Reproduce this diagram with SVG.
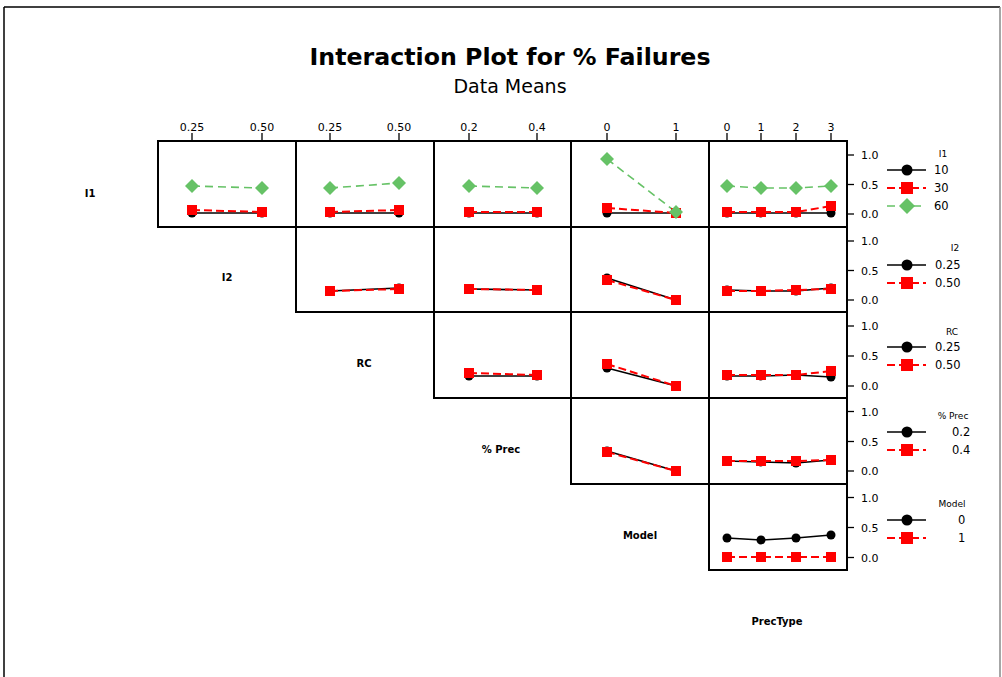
<svg xmlns="http://www.w3.org/2000/svg" xmlns:xlink="http://www.w3.org/1999/xlink" width="1002" height="677" viewBox="0 0 1002 677">
<style>
text{font-family:"DejaVu Sans","Liberation Sans",sans-serif;fill:#000}
.title{font-size:23px;font-weight:bold}
.sub{font-size:19px}
.tick{font-size:11px}
.rowlab{font-size:10px;font-weight:bold}
.legt{font-size:9px}
.legi{font-size:11.5px}
.panel{fill:none;stroke:#000;stroke-width:2}
.tk{stroke:#000;stroke-width:1.3}
.blk{fill:none;stroke:#000;stroke-width:1.6}
.red{fill:none;stroke:#f00;stroke-width:2;stroke-dasharray:8 4}
.grn{fill:none;stroke:#66c266;stroke-width:1.6;stroke-dasharray:8 5}
</style>
<defs>
<circle id="c" r="4.5" fill="#000"/>
<rect id="s" x="-5" y="-5" width="10" height="10" fill="#f00"/>
<path id="d" d="M0,-7 L7,0 L0,7 L-7,0 Z" fill="#66c266"/>
<circle id="lc" r="5.5" fill="#000"/>
<rect id="ls" x="-6" y="-6" width="12" height="12" fill="#f00"/>
<path id="ld" d="M0,-8 L8,0 L0,8 L-8,0 Z" fill="#66c266"/>
</defs>
<rect width="1002" height="677" fill="#fff"/>
<g id="frame">
<line x1="4" y1="7" x2="1000" y2="7" stroke="#000" stroke-width="1.5"/>
<line x1="4" y1="7" x2="4" y2="677" stroke="#000" stroke-width="1.5"/>
<line x1="1000" y1="7" x2="1000" y2="677" stroke="#888" stroke-width="1.5"/>
</g>
<g id="titles">
<text class="title" x="510" y="65" text-anchor="middle" textLength="401" lengthAdjust="spacingAndGlyphs">Interaction Plot for % Failures</text>
<text class="sub" x="510" y="93" text-anchor="middle">Data Means</text>
</g>
<g id="panels">
<rect class="panel" x="158" y="141" width="138" height="86"/>
<rect class="panel" x="296" y="141" width="138" height="86"/>
<rect class="panel" x="434" y="141" width="137" height="86"/>
<rect class="panel" x="571" y="141" width="138" height="86"/>
<rect class="panel" x="709" y="141" width="138" height="86"/>
<rect class="panel" x="296" y="227" width="138" height="85"/>
<rect class="panel" x="434" y="227" width="137" height="85"/>
<rect class="panel" x="571" y="227" width="138" height="85"/>
<rect class="panel" x="709" y="227" width="138" height="85"/>
<rect class="panel" x="434" y="312" width="137" height="86"/>
<rect class="panel" x="571" y="312" width="138" height="86"/>
<rect class="panel" x="709" y="312" width="138" height="86"/>
<rect class="panel" x="571" y="398" width="138" height="86"/>
<rect class="panel" x="709" y="398" width="138" height="86"/>
<rect class="panel" x="709" y="484" width="138" height="86"/>
</g>
<g id="top-axis">
<line class="tk" x1="192" y1="133" x2="192" y2="141"/><text class="tick" x="192" y="131" text-anchor="middle">0.25</text>
<line class="tk" x1="262" y1="133" x2="262" y2="141"/><text class="tick" x="262" y="131" text-anchor="middle">0.50</text>
<line class="tk" x1="330" y1="133" x2="330" y2="141"/><text class="tick" x="330" y="131" text-anchor="middle">0.25</text>
<line class="tk" x1="399" y1="133" x2="399" y2="141"/><text class="tick" x="399" y="131" text-anchor="middle">0.50</text>
<line class="tk" x1="469" y1="133" x2="469" y2="141"/><text class="tick" x="469" y="131" text-anchor="middle">0.2</text>
<line class="tk" x1="537" y1="133" x2="537" y2="141"/><text class="tick" x="537" y="131" text-anchor="middle">0.4</text>
<line class="tk" x1="607" y1="133" x2="607" y2="141"/><text class="tick" x="607" y="131" text-anchor="middle">0</text>
<line class="tk" x1="676" y1="133" x2="676" y2="141"/><text class="tick" x="676" y="131" text-anchor="middle">1</text>
<line class="tk" x1="727" y1="133" x2="727" y2="141"/><text class="tick" x="727" y="131" text-anchor="middle">0</text>
<line class="tk" x1="761" y1="133" x2="761" y2="141"/><text class="tick" x="761" y="131" text-anchor="middle">1</text>
<line class="tk" x1="796" y1="133" x2="796" y2="141"/><text class="tick" x="796" y="131" text-anchor="middle">2</text>
<line class="tk" x1="831" y1="133" x2="831" y2="141"/><text class="tick" x="831" y="131" text-anchor="middle">3</text>
</g>
<g id="right-axis">
<line class="tk" x1="847" y1="155" x2="854" y2="155"/><text class="tick" x="861" y="159">1.0</text>
<line class="tk" x1="847" y1="184.5" x2="854" y2="184.5"/><text class="tick" x="861" y="188.5">0.5</text>
<line class="tk" x1="847" y1="214" x2="854" y2="214"/><text class="tick" x="861" y="218">0.0</text>
<line class="tk" x1="847" y1="241" x2="854" y2="241"/><text class="tick" x="861" y="245">1.0</text>
<line class="tk" x1="847" y1="270.5" x2="854" y2="270.5"/><text class="tick" x="861" y="274.5">0.5</text>
<line class="tk" x1="847" y1="300" x2="854" y2="300"/><text class="tick" x="861" y="304">0.0</text>
<line class="tk" x1="847" y1="326" x2="854" y2="326"/><text class="tick" x="861" y="330">1.0</text>
<line class="tk" x1="847" y1="356" x2="854" y2="356"/><text class="tick" x="861" y="360">0.5</text>
<line class="tk" x1="847" y1="386" x2="854" y2="386"/><text class="tick" x="861" y="390">0.0</text>
<line class="tk" x1="847" y1="411.5" x2="854" y2="411.5"/><text class="tick" x="861" y="415.5">1.0</text>
<line class="tk" x1="847" y1="441.5" x2="854" y2="441.5"/><text class="tick" x="861" y="445.5">0.5</text>
<line class="tk" x1="847" y1="471" x2="854" y2="471"/><text class="tick" x="861" y="475">0.0</text>
<line class="tk" x1="847" y1="497.5" x2="854" y2="497.5"/><text class="tick" x="861" y="501.5">1.0</text>
<line class="tk" x1="847" y1="527.5" x2="854" y2="527.5"/><text class="tick" x="861" y="531.5">0.5</text>
<line class="tk" x1="847" y1="557.5" x2="854" y2="557.5"/><text class="tick" x="861" y="561.5">0.0</text>
</g>
<g id="row-labels">
<text class="rowlab" x="90" y="197" text-anchor="middle">I1</text>
<text class="rowlab" x="227" y="281" text-anchor="middle">I2</text>
<text class="rowlab" x="364" y="367" text-anchor="middle">RC</text>
<text class="rowlab" x="501" y="453" text-anchor="middle">% Prec</text>
<text class="rowlab" x="640" y="539" text-anchor="middle">Model</text>
<text class="rowlab" x="777" y="625" text-anchor="middle">PrecType</text>
</g>
<g id="connectors">
<!-- Row 1: I1 -->
<polyline class="blk" points="192,213 262,213"/>
<polyline class="red" points="192,210 262,212"/>
<polyline class="grn" points="192,186 262,188"/>
<polyline class="blk" points="330,213 399,213"/>
<polyline class="red" points="330,212 399,210"/>
<polyline class="grn" points="330,188 399,183"/>
<polyline class="blk" points="469,213 537,213"/>
<polyline class="red" points="469,212 537,212"/>
<polyline class="grn" points="469,186 537,188"/>
<polyline class="blk" points="607,213 676,213"/>
<polyline class="red" points="607,208 676,213"/>
<polyline class="grn" points="607,159 676,212"/>
<polyline class="blk" points="727,213 761,213 796,213 831,213"/>
<polyline class="red" points="727,212 761,212 796,212 831,206"/>
<polyline class="grn" points="727,186 761,188 796,188 831,186"/>
<!-- Row 2: I2 -->
<polyline class="blk" points="330,291 399,288"/>
<polyline class="red" points="330,291 399,289"/>
<polyline class="blk" points="469,289 537,290"/>
<polyline class="red" points="469,289 537,290"/>
<polyline class="blk" points="607,278 676,300"/>
<polyline class="red" points="607,280 676,300"/>
<polyline class="blk" points="727,290 761,291 796,291 831,288"/>
<polyline class="red" points="727,291 761,291 796,290 831,289"/>
<!-- Row 3: RC -->
<polyline class="blk" points="469,376 537,376"/>
<polyline class="red" points="469,373 537,375"/>
<polyline class="blk" points="607,368 676,386"/>
<polyline class="red" points="607,364 676,386"/>
<polyline class="blk" points="727,376 761,376 796,375 831,377"/>
<polyline class="red" points="727,375 761,375 796,375 831,371"/>
<!-- Row 4: % Prec -->
<polyline class="blk" points="607,451 676,471"/>
<polyline class="red" points="607,452 676,471"/>
<polyline class="blk" points="727,461 761,462 796,463 831,460"/>
<polyline class="red" points="727,461 761,461 796,461 831,460"/>
<!-- Row 5: Model -->
<polyline class="blk" points="727,538 761,540 796,538 831,535"/>
<polyline class="red" points="727,557 761,557 796,557 831,557"/>
</g>
<g id="markers">
<!-- Row 1 -->
<use href="#c" x="192" y="213"/><use href="#c" x="262" y="213"/>
<use href="#s" x="192" y="210"/><use href="#s" x="262" y="212"/>
<use href="#d" x="192" y="186"/><use href="#d" x="262" y="188"/>
<use href="#c" x="330" y="213"/><use href="#c" x="399" y="213"/>
<use href="#s" x="330" y="212"/><use href="#s" x="399" y="210"/>
<use href="#d" x="330" y="188"/><use href="#d" x="399" y="183"/>
<use href="#c" x="469" y="213"/><use href="#c" x="537" y="213"/>
<use href="#s" x="469" y="212"/><use href="#s" x="537" y="212"/>
<use href="#d" x="469" y="186"/><use href="#d" x="537" y="188"/>
<use href="#c" x="607" y="213"/><use href="#c" x="676" y="213"/>
<use href="#s" x="607" y="208"/><use href="#s" x="676" y="213"/>
<use href="#d" x="607" y="159"/><use href="#d" x="676" y="212"/>
<use href="#c" x="727" y="213"/><use href="#c" x="761" y="213"/><use href="#c" x="796" y="213"/><use href="#c" x="831" y="213"/>
<use href="#s" x="727" y="212"/><use href="#s" x="761" y="212"/><use href="#s" x="796" y="212"/><use href="#s" x="831" y="206"/>
<use href="#d" x="727" y="186"/><use href="#d" x="761" y="188"/><use href="#d" x="796" y="188"/><use href="#d" x="831" y="186"/>
<!-- Row 2 -->
<use href="#c" x="330" y="291"/><use href="#c" x="399" y="288"/>
<use href="#s" x="330" y="291"/><use href="#s" x="399" y="289"/>
<use href="#c" x="469" y="289"/><use href="#c" x="537" y="290"/>
<use href="#s" x="469" y="289"/><use href="#s" x="537" y="290"/>
<use href="#c" x="607" y="278"/><use href="#c" x="676" y="300"/>
<use href="#s" x="607" y="280"/><use href="#s" x="676" y="300"/>
<use href="#c" x="727" y="290"/><use href="#c" x="761" y="291"/><use href="#c" x="796" y="291"/><use href="#c" x="831" y="288"/>
<use href="#s" x="727" y="291"/><use href="#s" x="761" y="291"/><use href="#s" x="796" y="290"/><use href="#s" x="831" y="289"/>
<!-- Row 3 -->
<use href="#c" x="469" y="376"/><use href="#c" x="537" y="376"/>
<use href="#s" x="469" y="373"/><use href="#s" x="537" y="375"/>
<use href="#c" x="607" y="368"/><use href="#c" x="676" y="386"/>
<use href="#s" x="607" y="364"/><use href="#s" x="676" y="386"/>
<use href="#c" x="727" y="376"/><use href="#c" x="761" y="376"/><use href="#c" x="796" y="375"/><use href="#c" x="831" y="377"/>
<use href="#s" x="727" y="375"/><use href="#s" x="761" y="375"/><use href="#s" x="796" y="375"/><use href="#s" x="831" y="371"/>
<!-- Row 4 -->
<use href="#c" x="607" y="451"/><use href="#c" x="676" y="471"/>
<use href="#s" x="607" y="452"/><use href="#s" x="676" y="471"/>
<use href="#c" x="727" y="461"/><use href="#c" x="761" y="462"/><use href="#c" x="796" y="463"/><use href="#c" x="831" y="460"/>
<use href="#s" x="727" y="461"/><use href="#s" x="761" y="461"/><use href="#s" x="796" y="461"/><use href="#s" x="831" y="460"/>
<!-- Row 5 -->
<use href="#c" x="727" y="538"/><use href="#c" x="761" y="540"/><use href="#c" x="796" y="538"/><use href="#c" x="831" y="535"/>
<use href="#s" x="727" y="557"/><use href="#s" x="761" y="557"/><use href="#s" x="796" y="557"/><use href="#s" x="831" y="557"/>
</g>
<g id="legend-I1">
<text class="legt" x="943" y="157" text-anchor="middle">I1</text>
<line class="blk" x1="887" y1="170" x2="926" y2="170"/><use href="#lc" x="907" y="170"/><text class="legi" x="934" y="174">10</text>
<line class="red" x1="887" y1="188" x2="926" y2="188"/><use href="#ls" x="907" y="188"/><text class="legi" x="934" y="192">30</text>
<line class="grn" x1="887" y1="206" x2="926" y2="206"/><use href="#ld" x="907" y="206"/><text class="legi" x="934" y="210">60</text>
</g>
<g id="legend-I2">
<text class="legt" x="955" y="251" text-anchor="middle">I2</text>
<line class="blk" x1="887" y1="265" x2="926" y2="265"/><use href="#lc" x="907" y="265"/><text class="legi" x="935" y="269">0.25</text>
<line class="red" x1="887" y1="283" x2="926" y2="283"/><use href="#ls" x="907" y="283"/><text class="legi" x="935" y="287">0.50</text>
</g>
<g id="legend-RC">
<text class="legt" x="952" y="335" text-anchor="middle">RC</text>
<line class="blk" x1="887" y1="347" x2="926" y2="347"/><use href="#lc" x="907" y="347"/><text class="legi" x="935" y="351">0.25</text>
<line class="red" x1="887" y1="365" x2="926" y2="365"/><use href="#ls" x="907" y="365"/><text class="legi" x="935" y="369">0.50</text>
</g>
<g id="legend-Prec">
<text class="legt" x="953" y="419" text-anchor="middle">% Prec</text>
<line class="blk" x1="887" y1="432" x2="926" y2="432"/><use href="#lc" x="907" y="432"/><text class="legi" x="952" y="436">0.2</text>
<line class="red" x1="887" y1="450" x2="926" y2="450"/><use href="#ls" x="907" y="450"/><text class="legi" x="952" y="454">0.4</text>
</g>
<g id="legend-Model">
<text class="legt" x="952" y="507" text-anchor="middle">Model</text>
<line class="blk" x1="887" y1="520" x2="926" y2="520"/><use href="#lc" x="907" y="520"/><text class="legi" x="958" y="524">0</text>
<line class="red" x1="887" y1="538" x2="926" y2="538"/><use href="#ls" x="907" y="538"/><text class="legi" x="958" y="542">1</text>
</g>
</svg>
